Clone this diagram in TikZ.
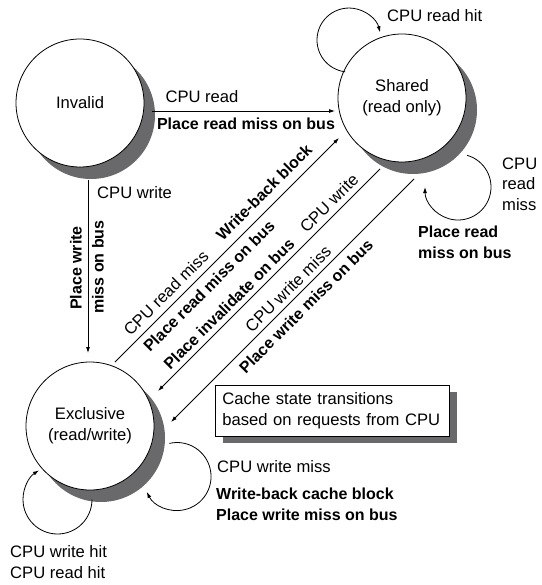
\documentclass[tikz,border=0pt]{standalone}
\usepackage{fontspec}
\setmainfont{Liberation Sans}
\usetikzlibrary{arrows.meta,calc,shadows}
\definecolor{shadowgray}{RGB}{105,105,108}
\tikzset{
  every node/.style={font=\fontsize{16.6}{21}\selectfont, inner sep=0pt},
  state/.style={circle, draw, fill=white, minimum size=128pt, align=center, line width=0.8pt,
    drop shadow={shadow xshift=11pt, shadow yshift=-12pt, opacity=1, fill=shadowgray}},
  arr/.style={-{Latex[length=6pt,width=4pt]}, line width=0.8pt},
  blbl/.style={font=\fontsize{16}{20.5}\selectfont\bfseries},
  nlbl/.style={font=\fontsize{16.6}{20.5}\selectfont},
  diag/.style={rotate=45},
  cbox/.style={draw, fill=white, line width=0.8pt, align=left, text width=220pt, inner xsep=7pt,
    minimum height=51pt, drop shadow={shadow xshift=8pt, shadow yshift=-7pt, opacity=1, fill=shadowgray}}
}
\begin{document}
\begin{tikzpicture}[x=1pt,y=1pt]
\useasboundingbox (0,0) rectangle (541,-585);
% states
\node[state] (inv) at (80,-103) {Invalid};
\node[state] (sh) at (402,-98) {Shared\\(read only)};
\node[state] (ex) at (90,-426) {Exclusive\\(read/write)};
% transitions
\draw[arr] ($(inv)+(72,-8)$) -- ($(sh)+(-67,-13)$);
\draw[arr] ($(inv)+(8,-77)$) -- ($(ex)+(-2,73)$);
\draw[arr] ($(ex)+(25,64)$) -- ($(sh)+(-63,-40)$);
\draw[arr] ($(sh)+(-22,-71)$) -- ($(ex)+(68,35)$);
\draw[arr] ($(sh)+(12,-81)$) -- ($(ex)+(81,4)$);
% self transitions
\draw[arr] ($(sh)+(-56.9,26.2)$) arc[start angle=263, end angle=14, radius=32];
\draw[arr] ($(sh)+(65.1,-57.3)$) arc[start angle=74, end angle=-180, radius=33];
\draw[arr] ($(ex)+(79.4,-17.4)$) arc[start angle=103, end angle=-153, radius=34];
\draw[arr] ($(ex)+(2,-73.5)$) arc[start angle=0, end angle=-237.5, radius=34.5];
% labels
\node[nlbl] (t1) at (202,-97) {CPU read};
\node[blbl] (t2) at (246,-124) {Place read miss on bus};
\node[nlbl, anchor=west] (t3) at (97,-193) {CPU write};
\node[blbl, rotate=90] (t4) at (76,-268) {Place write};
\node[blbl, rotate=90] (t5) at (98,-267) {miss on bus};
\node[nlbl, diag] (t6) at (166,-293) {CPU read miss};
\node[blbl, diag] (t7) at (264,-192) {Write-back block};
\node[blbl, diag] (t8) at (209,-286) {Place read miss on bus};
\node[nlbl, diag] (t9) at (329,-203) {CPU write};
\node[blbl, diag] (t10) at (229,-304) {Place invalidate on bus};
\node[nlbl, diag] (t11) at (288,-289) {CPU write miss};
\node[blbl, diag] (t12) at (306,-306) {Place write miss on bus};
\node[nlbl, anchor=west] (t13) at (387,-16) {CPU read hit};
\node[nlbl, anchor=west, align=left] (t14) at (502,-184) {CPU\\read\\miss};
\node[blbl, anchor=west, align=left] (t15) at (418,-242.5) {Place read\\miss on bus};
\node[nlbl, anchor=west, align=left] (t16) at (10,-562) {CPU write hit\\CPU read hit};
\node[nlbl, anchor=west] (t17) at (217,-467) {CPU write miss};
\node[blbl, anchor=west, align=left] (t18) at (216,-504.5) {Write-back cache block\\Place write miss on bus};
% note
\node[cbox, anchor=north west, font=\fontsize{16.6}{20.5}\selectfont] (note) at (215,-385) {Cache state transitions\\based on requests from CPU};
\end{tikzpicture}
\end{document}
